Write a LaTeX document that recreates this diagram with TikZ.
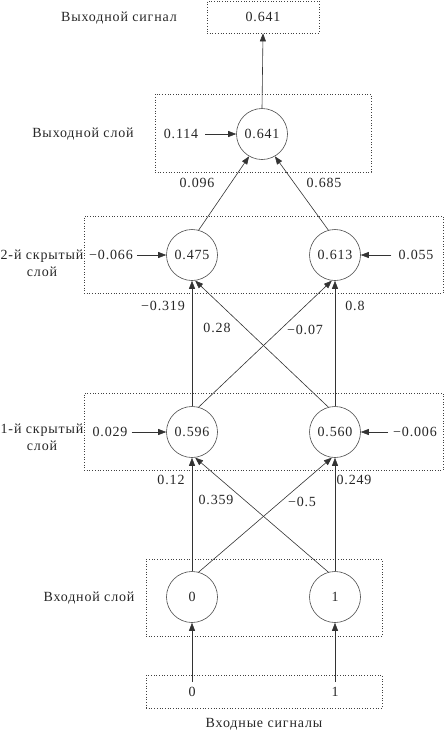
\documentclass[tikz,border=0pt]{standalone}
\usepackage{fontspec}
\setmainfont{Liberation Serif}[LetterSpace=6]
\usetikzlibrary{arrows.meta}
\begin{document}
\begin{tikzpicture}[x=1pt,y=-1pt,
  every node/.style={font=\fontsize{14}{17}\selectfont, text=black!85, inner sep=2pt},
  neuron/.style={circle, draw=black!70, line width=0.6pt, minimum size=51pt, inner sep=0pt},
  layerbox/.style={draw=black!75, dotted, line width=0.7pt, inner sep=0pt},
  conn/.style={draw=black!80, line width=0.6pt, -{Triangle[length=8pt,width=6pt]}},
  plain/.style={draw=black!80, line width=0.6pt}
]
\useasboundingbox (0,0) rectangle (445,740);

% layer boxes
\node[layerbox, minimum width=112pt, minimum height=32pt] (osig) at (263,17) {0.641};
\node[layerbox, minimum width=216pt, minimum height=78pt] (bout) at (263,133) {};
\node[layerbox, minimum width=359pt, minimum height=77pt] (bh2) at (263.5,254.5) {};
\node[layerbox, minimum width=359pt, minimum height=77pt] (bh1) at (263.5,431.5) {};
\node[layerbox, minimum width=236pt, minimum height=77pt] (bin) at (264,597.5) {};
\node[layerbox, minimum width=236pt, minimum height=33pt] (bsig) at (264,691.5) {};

% neurons
\node[neuron] (o) at (262,134) {0.641};
\node[neuron] (h21) at (192,255) {0.475};
\node[neuron] (h22) at (335,255) {0.613};
\node[neuron] (h11) at (192,432) {0.596};
\node[neuron] (h12) at (335,432) {0.560};
\node[neuron] (i0) at (192,597) {0};
\node[neuron] (i1) at (335,597) {1};

% input signals
\node[inner sep=5pt] (s0) at (192,692) {0};
\node[inner sep=5pt] (s1) at (335,692) {1};

% layer labels
\node (lsig) at (119,18) {Выходной сигнал};
\node (lout) at (83,134) {Выходной слой};
\node[align=center] (lh2) at (42,263) {2-й скрытый\\слой};
\node[align=center] (lh1) at (42,437) {1-й скрытый\\слой};
\node (lin) at (89,598) {Входной слой};
\node (lins) at (264,724) {Входные сигналы};

% biases
\node (b3) at (181,134) {0.114};
\node (b21) at (111,255) {−0.066};
\node (b22) at (416,255) {0.055};
\node (b11) at (110,432) {0.029};
\node (b12) at (415,432) {−0.006};

% connections
\draw[conn] (o.north) -- (osig.south);
\draw[conn, shorten <=5pt] (b3.east) -- (o.west);
\draw[conn, shorten <=2pt] (b21.east) -- (h21.west);
\draw[conn, shorten <=5pt] (b22.west) -- (h22.east);
\draw[conn, shorten <=2pt] (b11.east) -- (h11.west);
\draw[conn, shorten <=3pt] (b12.west) -- (h12.east);

\draw[conn] (h21.75) -- (o.240);
\draw[conn] (h22.105) -- (o.300);

\draw[conn] (h11.north) -- (h21.south);
\draw[conn] (h12.north) -- (h22.south);
\draw[conn] (h11.75) -- (h22.263);
\draw[conn] (h12.105) -- (h21.277);

\draw[conn] (i0.north) -- (h11.south);
\draw[conn] (i1.north) -- (h12.south);
\draw[conn] (i0.75) -- (h12.263);
\draw[conn] (i1.105) -- (h11.277);

\draw[conn] (s0.north) -- (i0.south);
\draw[conn] (s1.north) -- (i1.south);

% weights
\node (w1) at (197,183) {0.096};
\node (w2) at (324,183) {0.685};
\node (w3) at (163,306) {−0.319};
\node (w4) at (217,328) {0.28};
\node (w5) at (305,330) {−0.07};
\node (w6) at (355,306) {0.8};
\node (w7) at (171,480) {0.12};
\node (w8) at (216,500) {0.359};
\node (w9) at (302,502) {−0.5};
\node (w10) at (354,480) {0.249};
\end{tikzpicture}
\end{document}
